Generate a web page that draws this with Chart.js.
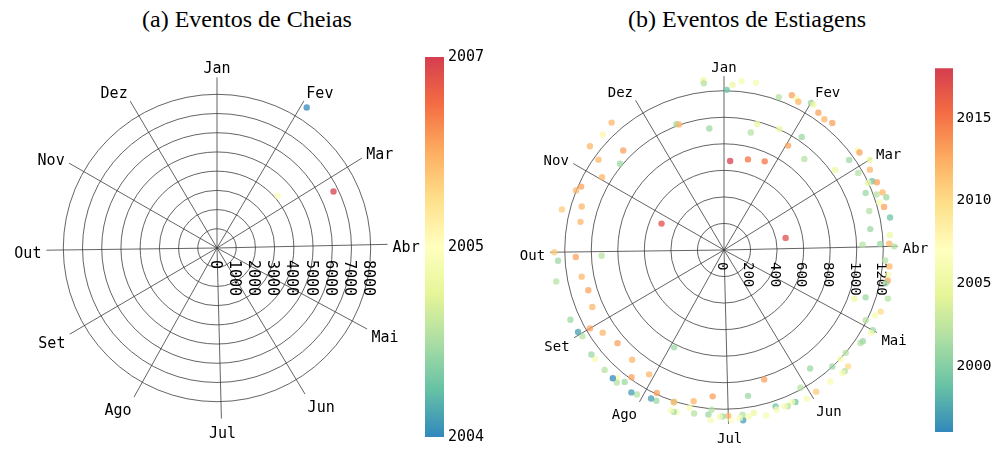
<!DOCTYPE html>
<html>
<head>
<meta charset="utf-8">
<script src="https://cdn.jsdelivr.net/npm/chart.js@4/dist/chart.umd.min.js"></script>
<style>
  html, body { margin: 0; padding: 0; background: #fff; width: 998px; height: 451px; overflow: hidden; }
  body { position: relative; }
  canvas { position: absolute; }
  .title {
    position: absolute; top: 5px; width: 320px; text-align: center;
    font-family: 'Liberation Serif', 'Times New Roman', serif; font-size: 24px; line-height: 28px;
    color: #000; white-space: nowrap;
  }
</style>
</head>
<body>
<div class="title" style="left:87px">(a) Eventos de Cheias</div>
<div class="title" style="left:587px">(b) Eventos de Estiagens</div>
<canvas id="polarA" width="434" height="434" style="left:0px;top:31px"></canvas>
<canvas id="barA" width="75" height="406" style="left:425px;top:44px"></canvas>
<canvas id="polarB" width="424" height="424" style="left:512px;top:38px"></canvas>
<canvas id="barB" width="63" height="390" style="left:935px;top:56px"></canvas>
<script>
// Month names and the day of the year each month starts on
const monthLabels = ['Jan', 'Fev', 'Mar', 'Abr', 'Mai', 'Jun', 'Jul', 'Ago', 'Set', 'Out', 'Nov', 'Dez'];
const monthStartDays = [0, 31, 59, 90, 120, 151, 181, 212, 243, 273, 304, 334];
const DAYS_IN_YEAR = 365;

// (a) Flood events: day of year, magnitude, year of occurrence
const daysA = [33, 50, 65];
const valuesA = [8680, 4170, 6740];
const yearsA = [2004.09, 2005.6, 2007.18];
const ringsA = [1000, 2000, 3000, 4000, 5000, 6000, 7000, 8000];
const radialTicksA = [0, 1000, 2000, 3000, 4000, 5000, 6000, 7000, 8000];
const rMaxA = 8880;
const cbarTicksA = [2004.09, 2005.635, 2007.18];
const cbarLabelsA = ['2004', '2005', '2007'];

// (b) Drought events: day of year, magnitude, year of occurrence
const daysB = [
  358, 358, 1, 344, 345, 358, 323, 318, 312, 319, 310, 314, 305, 298, 296, 291, 288, 285, 297, 273,
  3, 6, 11, 20, 24, 26, 27, 31, 32, 35, 38, 41, 15, 13, 25, 35, 32, 4, 15, 25,
  42, 55, 55, 54, 55, 59, 62, 61, 66, 66, 67, 69, 71, 71, 73, 74, 76, 76, 80, 83,
  86, 89, 90, 89, 89, 80,
  95, 97, 100, 102, 103, 108, 110, 112, 113, 115, 118, 120, 121, 126, 125, 132, 135, 135, 139, 137,
  138, 143, 146, 149, 153, 153, 157, 158, 160, 161, 164, 164, 168, 165, 172, 174, 173, 176, 176, 177,
  180, 181, 183,
  184, 187, 188, 187, 187, 194, 193, 195, 199, 200, 201, 201, 201, 208, 207, 209, 214, 214, 216, 219,
  220, 223, 222, 224, 210, 223, 228, 232, 233, 235, 239, 243, 242, 244, 249, 250, 257, 263, 263, 271,
  270, 271
];
const valuesB = [
  1288, 1265, 1207, 1014, 1004, 922, 1280, 1261, 1277, 1067, 1165, 1018, 1070, 1178, 1202, 1121, 1259, 1102, 511, 1279,
  1246, 1278, 1284, 1224, 1273, 1264, 1249, 1288, 1286, 1255, 1242, 1258, 982, 908, 1003, 1034, 923, 672, 706, 735,
  915, 1031, 1162, 1258, 1258, 1291, 1255, 1166, 1230, 1198, 1260, 1151, 1223, 1271, 1286, 1225, 1249, 1133, 1275, 1113,
  1255, 1246, 1282, 1177, 1045, 473,
  1217, 1252, 1253, 1255, 1244, 1288, 1125, 1049, 1269, 1241, 1192, 1274, 1271, 1244, 1252, 1201, 1201, 1282, 1199, 1289,
  1287, 1274, 1104, 1273, 1187, 1283, 1265, 1256, 1272, 1263, 1241, 1265, 1287, 1021, 1249, 1269, 1114, 1291, 1248, 1272,
  1283, 1250, 1254,
  1257, 1207, 1246, 1286, 1106, 1162, 1252, 1216, 1274, 1277, 1273, 1203, 1208, 1190, 1245, 1247, 1094, 1271, 1280, 1185,
  1244, 1255, 1285, 1279, 824, 1078, 1275, 1066, 1273, 1272, 1106, 1170, 1249, 1262, 1271, 1081, 1066, 1091, 1286, 1118,
  1253, 923
];
const yearsB = [
  2005, 2002, 1999, 2001, 2012, 2001, 2012, 2008, 2012, 2013, 2012, 2001, 2012, 2013, 2012, 2012, 2011, 2012, 2017, 2011,
  2005, 2006, 2006, 2002, 2013, 2006, 2012, 2001, 2005, 2013, 2012, 2013, 2005, 2002, 2005, 2001, 2013, 2018, 2015, 2015,
  2002, 2005, 2001, 2006, 2013, 2005, 2012, 2002, 1999, 2005, 2013, 2001, 2002, 2012, 2001, 2006, 2013, 2002, 1999, 2001,
  2005, 2012, 2002, 2001, 2002, 2017,
  2002, 2012, 2006, 2013, 2001, 2002, 2001, 2005, 2010, 2006, 2002, 2001, 2006, 2002, 2001, 2002, 2006, 2010, 2001, 2002,
  2006, 2006, 2001, 2011, 2002, 2006, 1999, 2006, 2002, 2006, 1999, 2006, 2006, 2013, 2005, 2006, 2001, 1997, 2002, 2006,
  2007, 2012, 2001,
  2006, 2002, 2001, 2006, 2013, 2012, 2002, 2006, 2006, 2001, 2006, 2002, 2012, 2013, 2001, 1997, 2012, 2002, 1997, 2013,
  2001, 2006, 2002, 1996, 2001, 2012, 2002, 2013, 2006, 2001, 2012, 2013, 2002, 1997, 2001, 2012, 2013, 2012, 2002, 2013,
  2001, 2002
];
const ringsB = [200, 400, 600, 800, 1000, 1200];
const radialTicksB = [0, 200, 400, 600, 800, 1000, 1200];
const rMaxB = 1310;
const cbarTicksB = [2000, 2005, 2010, 2015];
const cbarLabelsB = ['2000', '2005', '2010', '2015'];

// Spectral colour ramp, blue (early) to red (recent)
const rampStops = ['#3288bd', '#66c2a5', '#abdda4', '#e6f598', '#ffffbf', '#fee08b', '#fdae61', '#f46d43', '#d53e4f'];
const rampRGB = rampStops.map(h => [1, 3, 5].map(i => parseInt(h.substr(i, 2), 16)));
function ramp(t, alpha) {
  t = Math.max(0, Math.min(1, t));
  const n = rampRGB.length - 1;
  const f = t * n;
  const i = Math.min(Math.floor(f), n - 1);
  const u = f - i;
  const c = rampRGB[i].map((v, k) => Math.round(v + (rampRGB[i + 1][k] - v) * u));
  return `rgba(${c[0]},${c[1]},${c[2]},${alpha})`;
}

const MONO = '"DejaVu Sans Mono", "Liberation Mono", monospace';

// Draws the circular grid, month spokes, month names and radial tick labels
const polarGrid = {
  id: 'polarGrid',
  beforeDatasetsDraw(chart, args, opts) {
    const { ctx } = chart;
    const xs = chart.scales.x, ys = chart.scales.y;
    const cx = xs.getPixelForValue(0), cy = ys.getPixelForValue(0);
    const px = v => xs.getPixelForValue(v) - cx;
    ctx.save();
    ctx.strokeStyle = '#3c3c3c';
    ctx.lineWidth = 0.8;
    opts.rings.forEach(r => {
      ctx.beginPath();
      ctx.arc(cx, cy, px(r), 0, 2 * Math.PI);
      ctx.stroke();
    });
    const rEnd = px(opts.rMax);
    monthStartDays.forEach(d => {
      const a = 2 * Math.PI * d / DAYS_IN_YEAR;
      ctx.beginPath();
      ctx.moveTo(cx, cy);
      ctx.lineTo(cx + rEnd * Math.sin(a), cy - rEnd * Math.cos(a));
      ctx.stroke();
    });

    ctx.fillStyle = '#000';
    ctx.font = `${opts.fontSize}px ${MONO}`;
    ctx.textAlign = 'center';
    ctx.textBaseline = 'alphabetic';
    const capH = opts.fontSize * 0.73;
    const rl = rEnd + 5;
    monthLabels.forEach((m, i) => {
      const a = 2 * Math.PI * monthStartDays[i] / DAYS_IN_YEAR;
      const s = Math.sin(a), c = Math.cos(a);
      const w = ctx.measureText(m).width;
      const lx = cx + rl * s + Math.sign(s) * Math.min(1, Math.abs(s) * 3) * w / 2;
      const ly = cy - rl * c - c * (capH / 2 + 1.5) + 2;
      ctx.fillText(m, lx, ly + capH / 2);
    });

    ctx.textAlign = 'left';
    ctx.textBaseline = 'middle';
    opts.ticks.forEach(v => {
      ctx.save();
      ctx.translate(cx + px(v) - 2.5, cy + 12);
      ctx.rotate(Math.PI / 2);
      ctx.fillText(String(v), 0, 0);
      ctx.restore();
    });
    ctx.restore();
  }
};

function polarChart(id, days, values, years, grid, span, fontSize) {
  const lo = Math.min(...years), hi = Math.max(...years);
  const points = days.map((d, i) => {
    const a = 2 * Math.PI * d / DAYS_IN_YEAR;
    return { x: values[i] * Math.sin(a), y: values[i] * Math.cos(a) };
  });
  return new Chart(document.getElementById(id), {
    type: 'scatter',
    data: {
      datasets: [{
        data: points,
        backgroundColor: years.map(y => ramp((y - lo) / (hi - lo), 0.75)),
        borderWidth: 0,
        pointRadius: 3.2,
        pointHoverRadius: 3.2
      }]
    },
    options: {
      responsive: false,
      animation: false,
      events: [],
      layout: { padding: 0 },
      plugins: {
        legend: { display: false },
        tooltip: { enabled: false },
        polarGrid: Object.assign({ fontSize }, grid)
      },
      scales: {
        x: { type: 'linear', display: false, min: -span, max: span },
        y: { type: 'linear', display: false, min: -span, max: span }
      }
    },
    plugins: [polarGrid]
  });
}

function colorBar(id, years, tickVals, tickLabels, fontSize, axisWidth, padding, tickPad) {
  const lo = Math.min(...years), hi = Math.max(...years);
  return new Chart(document.getElementById(id), {
    type: 'bar',
    data: {
      labels: [''],
      datasets: [{
        data: [[lo, hi]],
        borderWidth: 0,
        barPercentage: 1,
        categoryPercentage: 1,
        backgroundColor: (ctx) => {
          const area = ctx.chart.chartArea;
          if (!area) return rampStops[0];
          const g = ctx.chart.ctx.createLinearGradient(0, area.bottom, 0, area.top);
          for (let k = 0; k <= 40; k++) g.addColorStop(k / 40, ramp(k / 40, 1));
          return g;
        }
      }]
    },
    options: {
      responsive: false,
      animation: false,
      events: [],
      layout: { padding },
      plugins: { legend: { display: false }, tooltip: { enabled: false } },
      scales: {
        x: { display: false },
        y: {
          position: 'right',
          min: lo,
          max: hi,
          grid: { display: false, drawTicks: false },
          border: { display: false },
          afterBuildTicks: (scale) => { scale.ticks = tickVals.map(v => ({ value: v })); },
          afterFit: (scale) => { scale.width = axisWidth; },
          ticks: {
            padding: tickPad,
            color: '#000',
            autoSkip: false,
            maxRotation: 0,
            font: { family: MONO, size: fontSize },
            callback: (v, i) => tickLabels[i]
          }
        }
      }
    }
  });
}

// Panel (a): outer ring 8000 sits 156 px from the centre of a 434 px canvas
polarChart('polarA', daysA, valuesA, yearsA,
  { rings: ringsA, ticks: radialTicksA, rMax: rMaxA }, 8000 * 217 / 156, 15);
colorBar('barA', yearsA, cbarTicksA, cbarLabelsA, 15, 56, { top: 12, bottom: 12, left: 0, right: 0 }, 4);

// Panel (b): outer ring 1200 sits 161.7 px from the centre of a 424 px canvas
polarChart('polarB', daysB, valuesB, yearsB,
  { rings: ringsB, ticks: radialTicksB, rMax: rMaxB }, 1200 * 212 / 161.7, 14);
colorBar('barB', yearsB, cbarTicksB, cbarLabelsB, 14.5, 45, { top: 12, bottom: 14, left: 0, right: 0 }, 3.5);
</script>
</body>
</html>
